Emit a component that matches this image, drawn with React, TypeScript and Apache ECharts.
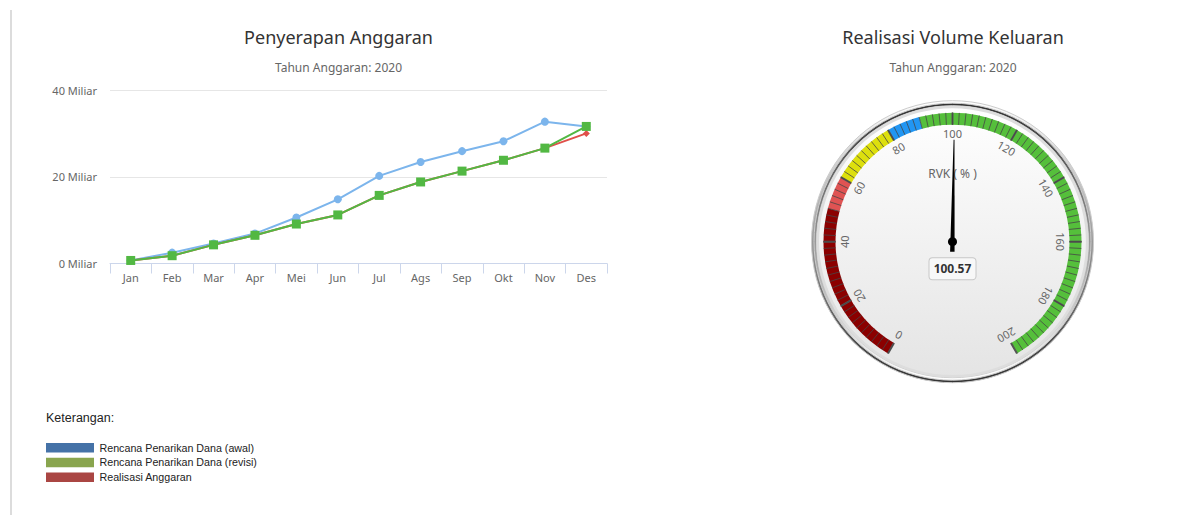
import React, { useEffect, useRef } from "react";
import * as echarts from "echarts";

const months = ["Jan", "Feb", "Mar", "Apr", "Mei", "Jun", "Jul", "Ags", "Sep", "Okt", "Nov", "Des"];
const rencanaAwal = [0.7, 2.5, 4.6, 6.9, 10.6, 14.8, 20.2, 23.4, 25.9, 28.2, 32.7, 31.6];
const rencanaRevisi = [0.7, 1.8, 4.3, 6.5, 9.1, 11.2, 15.7, 18.8, 21.3, 23.8, 26.6, 31.6];
const realisasi = [0.7, 1.8, 4.3, 6.5, 9.1, 11.2, 15.7, 18.8, 21.3, 23.8, 26.6, 30.0];
const yMin = 0;
const yMax = 40;
const yInterval = 20;

const gaugeValue = 100.57;
const gaugeMin = 0;
const gaugeMax = 200;
const bandEnds = [50, 60, 80, 90, 200];
const bandColors = ["#8B0000", "#DF5353", "#DDDF0D", "#2196F3", "#55BF3B"];

const legendNames = ["Rencana Penarikan Dana (awal)", "Rencana Penarikan Dana (revisi)", "Realisasi Anggaran"];
const legendColors = ["#4572A7", "#89A54E", "#AA4643"];

const CX = 952.5;
const CY = 241.7;

export default function App() {
  const ref = useRef<HTMLDivElement>(null);
  useEffect(() => {
    if (!ref.current) return;
    const chart = echarts.init(ref.current, null, { renderer: "svg" });
    const LG = echarts.graphic.LinearGradient;

    const legendGraphics: any[] = [
      {
        type: "text",
        x: 46,
        y: 418,
        style: { text: "Keterangan:", fill: "#222", font: "12.5px 'Liberation Sans'", verticalAlign: "middle" },
      },
    ];
    legendNames.forEach((n, i) => {
      legendGraphics.push({
        type: "rect",
        shape: { x: 46, y: 443 + i * 14.7, width: 48, height: 9.5 },
        style: { fill: legendColors[i] },
      });
      legendGraphics.push({
        type: "text",
        x: 99.5,
        y: 447.7 + i * 14.7,
        style: { text: n, fill: "#222", font: "10.7px 'Liberation Sans'", verticalAlign: "middle" },
      });
    });

    const option: any = {
      animation: false,
      title: [
        {
          text: "Penyerapan Anggaran",
          subtext: "Tahun Anggaran: 2020",
          left: 338.5,
          top: 28,
          textAlign: "center",
          padding: 0,
          itemGap: 15,
          textStyle: { fontFamily: "Noto Sans", fontSize: 18, fontWeight: "normal", color: "#333" },
          subtextStyle: { fontFamily: "Noto Sans", fontSize: 12, color: "#666" },
        },
        {
          text: "Realisasi Volume Keluaran",
          subtext: "Tahun Anggaran: 2020",
          left: 953,
          top: 28,
          textAlign: "center",
          padding: 0,
          itemGap: 15,
          textStyle: { fontFamily: "Noto Sans", fontSize: 18, fontWeight: "normal", color: "#333" },
          subtextStyle: { fontFamily: "Noto Sans", fontSize: 12, color: "#666" },
        },
      ],
      grid: { left: 110, right: 590, top: 90, bottom: 251.5, containLabel: false },
      xAxis: {
        type: "category",
        data: months,
        boundaryGap: true,
        axisLine: { lineStyle: { color: "#ccd6eb", width: 1 } },
        axisTick: { show: true, length: 10, lineStyle: { color: "#ccd6eb" } },
        axisLabel: { color: "#666", fontFamily: "Noto Sans", fontSize: 11, margin: 8 },
      },
      yAxis: {
        type: "value",
        min: yMin,
        max: yMax,
        interval: yInterval,
        axisLine: { show: false },
        axisTick: { show: false },
        splitLine: { lineStyle: { color: "#e6e6e6" } },
        axisLabel: {
          color: "#666",
          fontFamily: "Noto Sans",
          fontSize: 11,
          margin: 13,
          formatter: (v: number) => `${v} Miliar`,
        },
      },
      series: [
        {
          name: legendNames[0],
          type: "line",
          data: rencanaAwal,
          symbol: "circle",
          symbolSize: 8,
          lineStyle: { width: 2, color: "#7cb5ec" },
          itemStyle: { color: "#7cb5ec" },
          z: 2,
        },
        {
          name: legendNames[2],
          type: "line",
          data: realisasi,
          symbol: "diamond",
          symbolSize: 7,
          lineStyle: { width: 2, color: "#e0504a" },
          itemStyle: { color: "#e0504a" },
          z: 3,
        },
        {
          name: legendNames[1],
          type: "line",
          data: rencanaRevisi,
          symbol: "rect",
          symbolSize: 9,
          lineStyle: { width: 2, color: "#52b843" },
          itemStyle: { color: "#52b843" },
          z: 4,
        },
        {
          name: "RVK",
          type: "gauge",
          center: [CX, CY],
          radius: 129,
          startAngle: 240,
          endAngle: -60,
          min: gaugeMin,
          max: gaugeMax,
          splitNumber: 10,
          z: 5,
          axisLine: {
            lineStyle: {
              width: 12,
              color: bandEnds.map((e, i) => [e / gaugeMax, bandColors[i]]),
            },
          },
          axisTick: {
            splitNumber: 10,
            distance: -12,
            length: 12,
            lineStyle: { color: "rgba(70,70,70,0.8)", width: 1 },
          },
          splitLine: {
            distance: -12,
            length: 12,
            lineStyle: { color: "#555", width: 2 },
          },
          axisLabel: {
            distance: 21,
            rotate: "tangential",
            color: "#666",
            fontFamily: "Noto Sans",
            fontSize: 11,
          },
          pointer: {
            icon: "path://M4,0 L6,0 L10,100 L0,100 Z",
            length: 112,
            width: 4.5,
            offsetCenter: [0, 10],
            itemStyle: { color: "#000" },
          },
          anchor: { show: true, showAbove: true, size: 9, itemStyle: { color: "#000" } },
          title: {
            offsetCenter: [0, -68],
            color: "#666",
            fontFamily: "Noto Sans",
            fontSize: 12,
          },
          detail: {
            valueAnimation: false,
            offsetCenter: [0, 27],
            formatter: (v: number) => v.toFixed(2),
            fontFamily: "Noto Sans",
            fontSize: 12,
            fontWeight: "bold",
            color: "#333",
            backgroundColor: "#f8f8f8",
            borderColor: "#c8c8c8",
            borderWidth: 1,
            borderRadius: 3,
            width: 46,
            height: 21,
            lineHeight: 21,
            padding: 0,
          },
          data: [{ value: gaugeValue, name: "RVK ( % )" }],
        },
      ],
      graphic: [
        {
          type: "line",
          shape: { x1: 11, y1: 10, x2: 11, y2: 515 },
          style: { stroke: "#dcdcdc", lineWidth: 2 },
          silent: true,
        },
        {
          type: "circle",
          shape: { cx: CX, cy: CY, r: 141 },
          style: {
            fill: new LG(0, 0, 0, 1, [
              { offset: 0, color: "#ffffff" },
              { offset: 1, color: "#333333" },
            ]),
            stroke: "#cccccc",
            lineWidth: 1,
          },
          silent: true,
        },
        {
          type: "circle",
          shape: { cx: CX, cy: CY, r: 138.5 },
          style: {
            fill: new LG(0, 0, 0, 1, [
              { offset: 0, color: "#333333" },
              { offset: 1, color: "#ffffff" },
            ]),
            stroke: "#cccccc",
            lineWidth: 1,
          },
          silent: true,
        },
        {
          type: "circle",
          shape: { cx: CX, cy: CY, r: 136 },
          style: {
            fill: new LG(0, 0, 0, 1, [
              { offset: 0, color: "#ffffff" },
              { offset: 1, color: "#e4e4e4" },
            ]),
            stroke: "#cccccc",
            lineWidth: 1,
          },
          silent: true,
        },
        {
          type: "ring",
          shape: { cx: CX, cy: CY, r: 136, r0: 133.4 },
          style: { fill: "#dddddd" },
          silent: true,
        },
        ...legendGraphics,
      ],
    };
    chart.setOption(option);
    return () => chart.dispose();
  }, []);
  return (
    <div
      ref={ref}
      style={{ position: "fixed", left: 0, top: 0, width: 1197, height: 515, background: "#fff" }}
    />
  );
}
